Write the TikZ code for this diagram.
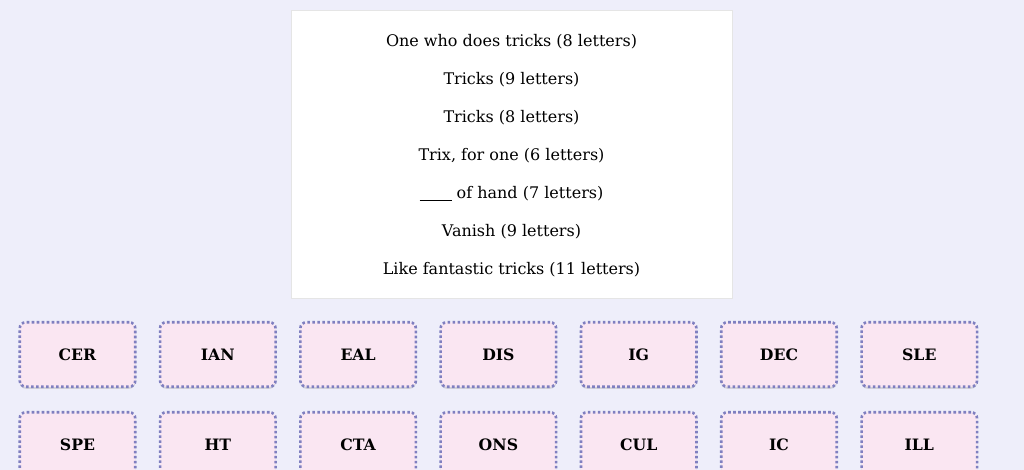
\documentclass[tikz,border=0pt]{standalone}
\usepackage{fontspec}
\setmainfont{DejaVu Serif}
\usetikzlibrary{shadows}
\definecolor{bg}{HTML}{EEEEFA}
\definecolor{tilef}{HTML}{FAE6F2}
\definecolor{tiled}{HTML}{7F7FC0}
\tikzset{x=1pt,y=-1pt,
 clue/.style={font=\fontsize{16}{18}\selectfont},
 tile/.style={draw=tiled,fill=tilef,line width=2.6pt,dash pattern=on 2.6pt off 2.4pt,rounded corners=6pt,minimum width=115.5pt,minimum height=64.5pt,font=\bfseries\fontsize{15.7}{18}\selectfont,drop shadow={shadow xshift=0pt,shadow yshift=-2pt,opacity=0.25,fill=gray}}}
\begin{document}
\begin{tikzpicture}
\path[use as bounding box,fill=bg] (0,0) rectangle (1024,470);
\begin{scope}
\clip (0,0) rectangle (1024,470);
\node[draw=black!10,fill=white,minimum width=441pt,minimum height=288pt,anchor=north west,inner sep=0] (panel) at (291,10) {};
\foreach \t [count=\i] in {One who does tricks (8 letters),Tricks (9 letters),Tricks (8 letters),{Trix, for one (6 letters)},\underline{\hspace{2em}} of hand (7 letters),Vanish (9 letters),Like fantastic tricks (11 letters)}
  \node[clue] (c\i) at (511.5,{42+38*(\i-1)}) {\t};
\foreach \w [count=\i] in {CER,IAN,EAL,DIS,IG,DEC,SLE}
  \node[tile] (a\i) at ({77.5+140.3*(\i-1)},354.5) {\w};
\foreach \w [count=\i] in {SPE,HT,CTA,ONS,CUL,IC,ILL}
  \node[tile] (b\i) at ({77.5+140.3*(\i-1)},444.5) {\w};
\end{scope}
\end{tikzpicture}
\end{document}
